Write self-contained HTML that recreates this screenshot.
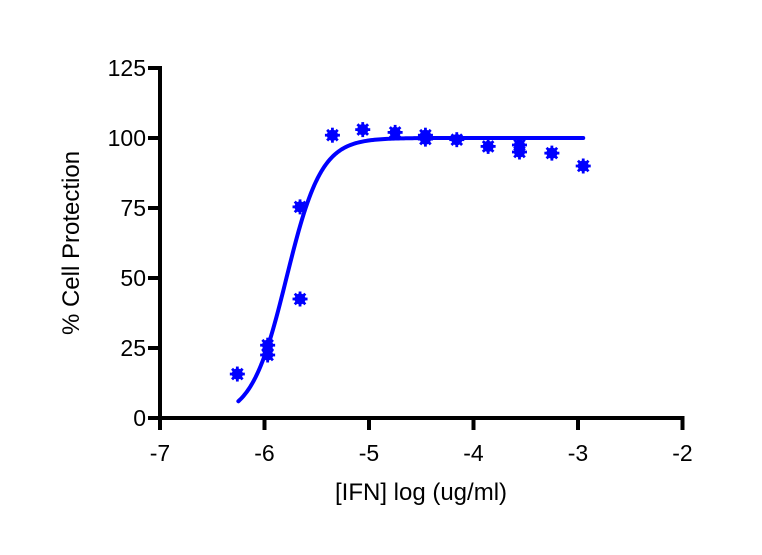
<!DOCTYPE html>
<html><head><meta charset="utf-8"><style>
html,body{margin:0;padding:0;background:#fff;}
svg text{font-family:"Liberation Sans",Arial,sans-serif;fill:#000;}
</style></head><body>
<svg id="chart" width="762" height="550" viewBox="0 0 762 550" xmlns="http://www.w3.org/2000/svg">
<g id="axes"></g>
<g id="series"></g>
<text x="0" y="0" font-size="24" text-anchor="middle" transform="translate(79,243) rotate(-90)">% Cell Protection</text>
<text x="421" y="500" font-size="24" text-anchor="middle">[IFN] log (ug/ml)</text>
</svg>
<script>
const xTicks=[-7,-6,-5,-4,-3,-2];
const yTicks=[0,25,50,75,100,125];
const xValues=[-6.26,-5.97,-5.97,-5.66,-5.66,-5.35,-5.06,-4.75,-4.46,-4.46,-4.16,-3.86,-3.56,-3.56,-3.25,-2.95];
const yValues=[15.7,26,22.5,75.4,42.5,101,103,102,101,99.6,99.4,97,97.5,95,94.6,90];
const fitBottom=0, fitTop=100, fitLogEC50=-5.79, fitHill=2.6, fitXMin=-6.25, fitXMax=-2.95;

const NS="http://www.w3.org/2000/svg";
const X0=160, XS=104.5, Y0=418, YS=2.8;
const sx=v=>X0+(v-(-7))*XS;
const sy=v=>Y0-v*YS;
function mk(tag,attrs,parent){const e=document.createElementNS(NS,tag);for(const k in attrs)e.setAttribute(k,attrs[k]);parent.appendChild(e);return e;}
const axes=document.getElementById('axes');
const series=document.getElementById('series');

let a=mk('line',{x1:sx(-7),y1:sy(125)-2,x2:sx(-7),y2:Y0+2,stroke:'#000','stroke-width':4},axes);


a=mk('line',{x1:sx(-7)-2,y1:Y0,x2:sx(-2)+2,y2:Y0,stroke:'#000','stroke-width':4},axes);



yTicks.forEach(t=>{
  const l=mk('line',{x1:sx(-7)-12,y1:sy(t),x2:sx(-7),y2:sy(t),stroke:'#000','stroke-width':4},axes);
  
  
  const tx=mk('text',{x:sx(-7)-14,y:sy(t)+8,'font-size':23,'text-anchor':'end'},axes);
  tx.textContent=t;
  
  
});
xTicks.forEach(t=>{
  const l=mk('line',{x1:sx(t),y1:Y0,x2:sx(t),y2:Y0+12,stroke:'#000','stroke-width':4},axes);
  
  
  const tx=mk('text',{x:sx(t),y:Y0+43,'font-size':23,'text-anchor':'middle'},axes);
  tx.textContent=t;
  
  
});

let d='';
for(let i=0;i<=200;i++){
  const x=fitXMin+(fitXMax-fitXMin)*i/200;
  const y=fitBottom+(fitTop-fitBottom)/(1+Math.pow(10,(fitLogEC50-x)*fitHill));
  d+=(i?'L':'M')+sx(x).toFixed(2)+','+sy(y).toFixed(2);
}
const curve=mk('path',{d:d,fill:'none',stroke:'#0000ff','stroke-width':4,'stroke-linecap':'round'},series);



xValues.forEach((xv,i)=>{
  const cx=sx(xv), cy=sy(yValues[i]);
  const g=mk('g',{},series);
  
  
  mk('circle',{cx:cx,cy:cy,r:5.5,fill:'#0000ff'},g);
  for(let k=0;k<4;k++){
    const ang=k*Math.PI/4, r=7.5;
    mk('line',{x1:cx-r*Math.cos(ang),y1:cy-r*Math.sin(ang),x2:cx+r*Math.cos(ang),y2:cy+r*Math.sin(ang),stroke:'#0000ff','stroke-width':2.8},g);
  }
});
</script>
</body></html>
